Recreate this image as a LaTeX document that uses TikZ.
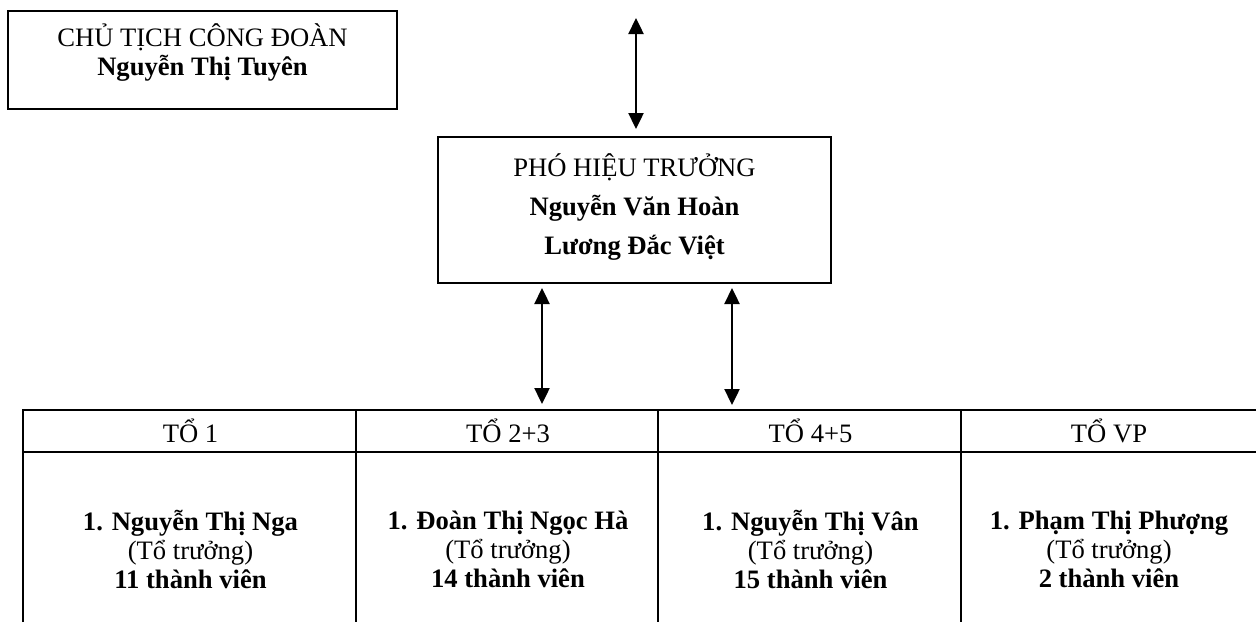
\documentclass[tikz,border=0pt]{standalone}
\usepackage{fontspec}
\setmainfont{Liberation Serif}
\usepackage{tikz}
\usetikzlibrary{arrows.meta}

\tikzset{
  hop/.style={{Triangle[width=7.5pt,length=8pt]}-{Triangle[width=7.5pt,length=8pt]}},
  cell/.style={rectangle,inner sep=0pt,align=center},
}

\begin{document}
\begin{tikzpicture}[x=0.5pt,y=-0.5pt,line width=1pt,font=\fontsize{13.3}{14.5}\selectfont]
\useasboundingbox (0,0) rectangle (1256,622);
%\draw[help lines] (0,0) grid[step=50] (1256,622);
\path
(202.5,60) node(ct) [rectangle,draw,minimum width=194.5pt,minimum height=49pt,align=center,text depth=10pt] {CHỦ TỊCH CÔNG ĐOÀN\\\textbf{Nguyễn Thị Tuyên}}
(634.5,210) node(ph) [rectangle,draw,minimum width=196.5pt,minimum height=73pt,align=center,text depth=6pt] {PHÓ HIỆU TRƯỞNG\\[5pt]\textbf{Nguyễn Văn Hoàn}\\[5pt]\textbf{Lương Đắc Việt}}
(190.5,431) node(t1) [cell,minimum width=166.5pt,minimum height=20pt] {TỔ 1}
(508,431) node(t2) [cell,minimum width=151pt,minimum height=20pt] {TỔ 2+3}
(810.5,431) node(t3) [cell,minimum width=151.5pt,minimum height=20pt] {TỔ 4+5}
(1109,431) node(t4) [cell,minimum width=147pt,minimum height=20pt] {TỔ VP}
(190.5,549) node(b1) [cell] {\textbf{1. Nguyễn Thị Nga}\\(Tổ trưởng)\\\textbf{11 thành viên}}
(508,549) node(b2) [cell] {\textbf{1. Đoàn Thị Ngọc Hà}\\(Tổ trưởng)\\\textbf{14 thành viên}}
(810.5,549) node(b3) [cell] {\textbf{1. Nguyễn Thị Vân}\\(Tổ trưởng)\\\textbf{15 thành viên}}
(1109,549) node(b4) [cell] {\textbf{1. Phạm Thị Phượng}\\(Tổ trưởng)\\\textbf{2 thành viên}};
% table lines
\draw (t1.west |- 0,622) -- (t1.north west) -- (t4.north east);
\draw (t1.south west) -- (t4.south east);
\draw (t2.north west) -- (t2.west |- 0,622);
\draw (t3.north west) -- (t3.west |- 0,622);
\draw (t4.north west) -- (t4.west |- 0,622);
% arrows
\coordinate (up) at (636,18);
\coordinate (a1) at (542,0);
\coordinate (a2) at (732,0);
\draw[hop,line width=1.2pt,shorten >=3.5pt] (up) -- (up |- ph.north);
\draw[hop,line width=1.2pt,shorten <=2pt,shorten >=3pt] (a1 |- ph.south) -- (a1 |- t2.north);
\draw[hop,line width=1.2pt,shorten <=2pt,shorten >=2.5pt] (a2 |- ph.south) -- (a2 |- t3.north);
\end{tikzpicture}
\end{document}
